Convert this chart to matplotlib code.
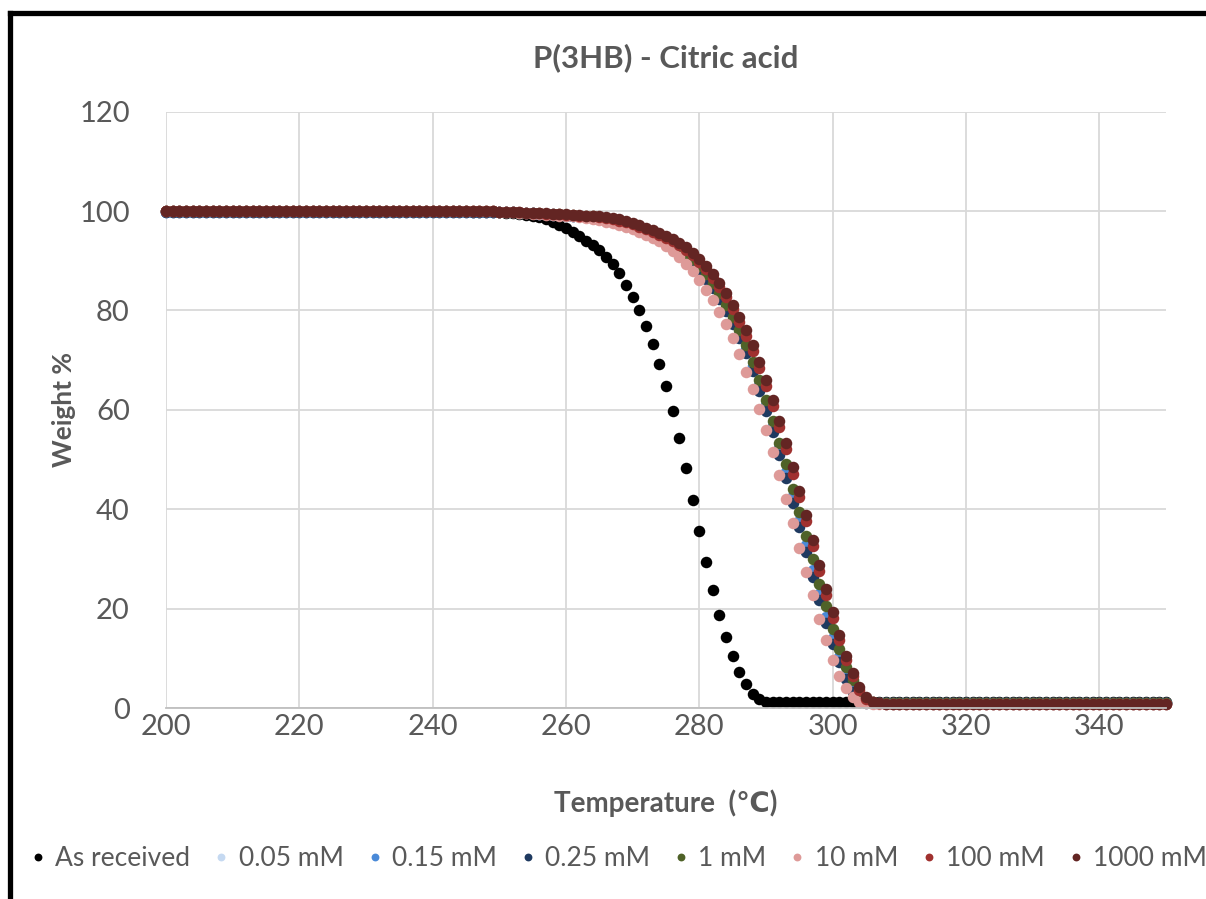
import matplotlib
matplotlib.use('Agg')
import matplotlib.pyplot as plt
from matplotlib.lines import Line2D

plt.rcParams['font.family'] = ['Lato', 'DejaVu Sans']

temps = list(range(200, 351))

# weight % at each temperature
as_received = ([100.0] * 46 +
               [99.9, 99.9, 99.9, 99.8, 99.8, 99.7, 99.6, 99.4, 99.2, 99.0,
                98.7, 98.3, 97.8, 97.2, 96.5, 95.7, 94.9, 94.0, 93.2, 92.2,
                90.8, 89.3, 87.6, 85.2, 82.7, 80.0, 76.9, 73.3, 69.3, 64.8,
                59.8, 54.3, 48.4, 41.9, 35.6, 29.5, 23.7, 18.7, 14.4, 10.6,
                7.4, 4.8, 2.9, 1.8, 1.3] +
               [1.2] * 60)

mm_005 = ([99.8] * 50 +
          [99.9, 99.8, 99.8, 99.7, 99.6, 99.6, 99.5, 99.4, 99.3, 99.2,
           99.1, 99.0, 98.9, 98.7, 98.6, 98.4, 98.1, 97.9, 97.6, 97.2,
           96.8, 96.3, 95.8, 95.2, 94.6, 93.9, 93.1, 92.2, 91.1, 89.9,
           88.3, 86.6, 84.7, 82.7, 80.2, 77.6, 74.8, 71.8, 68.3, 64.4,
           60.3, 56.0, 51.6, 46.9, 41.9, 37.0, 32.0, 27.1, 22.3, 17.7,
           13.5, 9.7, 6.2, 3.5, 1.8, 1.1, 1.0, 1.0, 1.0, 1.0, 1.0] +
          [1.0] * 40)

mm_015 = ([99.8] * 50 +
          [99.9, 99.8, 99.8, 99.7, 99.7, 99.6, 99.5, 99.4, 99.4, 99.3,
           99.2, 99.1, 99.0, 98.8, 98.6, 98.4, 98.2, 97.9, 97.6, 97.3,
           96.9, 96.4, 95.9, 95.3, 94.7, 94.0, 93.3, 92.4, 91.3, 90.1,
           88.6, 86.9, 85.0, 83.0, 80.6, 78.0, 75.2, 72.2, 68.8, 65.0,
           60.9, 56.7, 52.3, 47.6, 42.6, 37.7, 32.8, 27.8, 23.0, 18.4,
           14.2, 10.3, 6.7, 3.8, 2.0, 1.2, 1.0, 1.0, 1.0, 1.0, 1.0] +
          [1.0] * 40)

mm_025 = ([99.8] * 50 +
          [99.9, 99.8, 99.8, 99.7, 99.6, 99.6, 99.5, 99.4, 99.3, 99.2,
           99.1, 99.0, 98.9, 98.7, 98.5, 98.3, 98.1, 97.8, 97.5, 97.1,
           96.7, 96.2, 95.7, 95.1, 94.5, 93.8, 93.0, 92.1, 91.0, 89.7,
           88.1, 86.4, 84.5, 82.4, 79.9, 77.3, 74.5, 71.4, 67.9, 63.9,
           59.8, 55.5, 51.0, 46.3, 41.2, 36.4, 31.4, 26.4, 21.7, 17.1,
           13.0, 9.3, 5.8, 3.2, 1.7, 1.1, 1.0, 1.0, 1.0, 1.0, 1.0] +
          [1.0] * 40)

mm_1 = ([100.0] * 50 +
        [99.9, 99.8, 99.8, 99.7, 99.7, 99.6, 99.6, 99.5, 99.5, 99.4,
         99.3, 99.2, 99.1, 99.0, 98.9, 98.7, 98.5, 98.3, 98.0, 97.6,
         97.1, 96.6, 96.1, 95.5, 94.9, 94.3, 93.6, 92.7, 91.6, 90.4,
         88.9, 87.3, 85.6, 83.6, 81.2, 78.6, 76.0, 73.0, 69.7, 66.0,
         62.0, 57.8, 53.4, 49.1, 44.2, 39.5, 34.7, 30.0, 25.0, 20.5,
         16.0, 12.0, 8.4, 5.6, 2.9, 1.6, 1.2, 1.1, 1.1, 1.1, 1.1] +
        [1.1] * 40)

mm_10 = ([100.0] * 50 +
         [99.9, 99.8, 99.8, 99.7, 99.6, 99.5, 99.4, 99.3, 99.2, 99.1,
          99.0, 98.9, 98.7, 98.5, 98.3, 98.1, 97.8, 97.5, 97.2, 96.8,
          96.3, 95.8, 95.2, 94.6, 93.9, 93.0, 92.0, 90.8, 89.4, 87.9,
          86.1, 84.2, 82.1, 79.7, 77.3, 74.4, 71.2, 67.6, 64.2, 60.1,
          55.9, 51.6, 46.9, 42.1, 37.2, 32.3, 27.4, 22.7, 18.0, 13.8,
          9.8, 6.4, 4.0, 2.2, 1.3, 1.0, 0.9, 0.9, 0.9, 0.9, 0.9] +
         [0.9] * 40)

mm_100 = ([100.0] * 50 +
          [99.9, 99.9, 99.8, 99.8, 99.7, 99.7, 99.6, 99.5, 99.5, 99.4,
           99.3, 99.2, 99.1, 99.0, 98.9, 98.7, 98.5, 98.3, 98.0, 97.7,
           97.3, 96.8, 96.3, 95.8, 95.2, 94.6, 93.9, 93.1, 92.2, 91.1,
           89.8, 88.3, 86.6, 84.8, 82.7, 80.3, 77.7, 74.9, 71.9, 68.5,
           64.8, 60.8, 56.6, 52.1, 47.2, 42.5, 37.6, 32.6, 27.6, 22.8,
           18.2, 13.8, 9.7, 6.4, 3.7, 1.9, 1.2, 1.0, 0.9, 0.9, 0.9] +
          [0.9] * 40)

mm_1000 = ([100.0] * 50 +
           [99.9, 99.9, 99.8, 99.8, 99.7, 99.7, 99.6, 99.6, 99.5, 99.5,
            99.4, 99.3, 99.2, 99.1, 99.0, 98.9, 98.7, 98.5, 98.3, 98.0,
            97.6, 97.1, 96.6, 96.1, 95.5, 94.9, 94.3, 93.6, 92.7, 91.6,
            90.4, 88.9, 87.3, 85.6, 83.6, 81.2, 78.6, 76.0, 73.0, 69.7,
            66.0, 62.0, 57.8, 53.4, 48.6, 43.7, 38.9, 33.9, 28.9, 24.0,
            19.3, 14.8, 10.6, 7.1, 4.2, 2.2, 1.3, 1.0, 0.9, 0.9, 0.9] +
           [0.9] * 40)

series = [
    ('As received', as_received, '#000000'),
    ('0.05 mM', mm_005, '#C5D9F1'),
    ('0.15 mM', mm_015, '#4A8AD8'),
    ('0.25 mM', mm_025, '#1F3A60'),
    ('1 mM', mm_1, '#4F6228'),
    ('10 mM', mm_10, '#DE9A98'),
    ('100 mM', mm_100, '#A0312F'),
    ('1000 mM', mm_1000, '#632523'),
]

gray = '#595959'

fig = plt.figure(figsize=(12.06, 8.99), dpi=100)
ax = fig.add_axes([0.1376, 0.2121, 0.8292, 0.6638])

for name, vals, col in series:
    ax.plot(temps, vals, linestyle='none', marker='o', markersize=8.3,
            markeredgewidth=0, color=col, label=name, clip_on=False)

ax.set_xlim(200, 350)
ax.set_ylim(0, 120)
ax.set_xticks(range(200, 341, 20))
ax.set_yticks(range(0, 121, 20))
ax.grid(True, color='#D9D9D9', linewidth=1.3)
ax.set_axisbelow(True)
for s in ['top', 'right', 'left']:
    ax.spines[s].set_visible(False)
ax.spines['bottom'].set_color('#BFBFBF')
ax.spines['bottom'].set_linewidth(1.3)
ax.tick_params(length=0, labelsize=21, labelcolor=gray)
ax.tick_params(axis='x', pad=4)
ax.tick_params(axis='y', pad=26)

ax.set_title('P(3HB) - Citric acid', fontsize=22.5, fontweight='bold', color=gray, pad=32)
ax.set_xlabel('Temperature  (\u2103)', fontsize=20, fontweight='bold', color=gray, labelpad=36)
ax.set_ylabel('Weight %', fontsize=19, fontweight='bold', color=gray, labelpad=2)

fig.legend(loc='center', bbox_to_anchor=(0.513, 0.045), ncol=8, frameon=False,
           fontsize=19, labelcolor=gray, markerscale=0.68, handlelength=0.6,
           handletextpad=0.35, columnspacing=0.88)

# chart border (only left and top edges are in frame)
fig.add_artist(Line2D([9.5 / 1206, 9.5 / 1206], [0, 1 - 13 / 899], color='black',
                      linewidth=3.8, transform=fig.transFigure))
fig.add_artist(Line2D([9.5 / 1206, 1], [1 - 13 / 899, 1 - 13 / 899], color='black',
                      linewidth=3.8, transform=fig.transFigure))

fig.savefig('out.png', dpi=100)
